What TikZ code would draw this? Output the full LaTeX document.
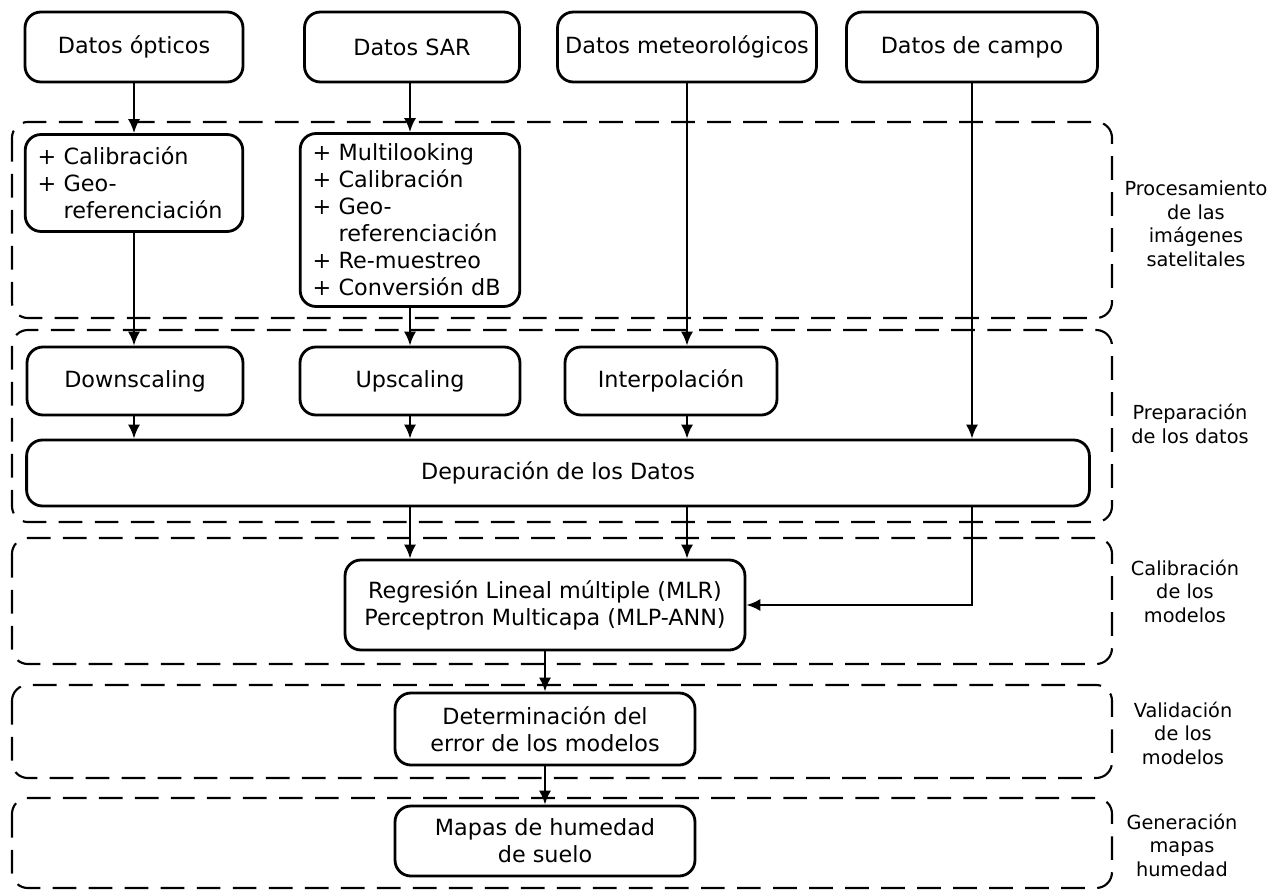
\documentclass[tikz,border=0pt]{standalone}
\usepackage{fontspec}
\setmainfont{DejaVu Sans}
\usepackage {tikz}
\usetikzlibrary {positioning}
\usetikzlibrary{calc}
\usetikzlibrary{arrows.meta}
\tikzset{
    proc/.style = {rectangle,draw,rounded corners=9pt,line width=1.6pt,align=center,
      font=\fontsize{12.7}{15.4}\selectfont,inner sep=2pt},
    steplist/.style = {proc,align=left,inner xsep=7pt},
    stage/.style = {draw,dash pattern=on 13.5pt off 7pt,line width=1.2pt,rounded corners=9pt},
    stagelabel/.style = {align=center,font=\fontsize{11}{13.4}\selectfont},
    flow/.style = {line width=1.4pt,-{Latex[length=8pt,width=7pt]}}}
\begin{document}
\begin{tikzpicture}[x=0.02cm,y=-0.02cm]
        \useasboundingbox (0,0) rectangle (1281,892);
        % etapas
        \draw[stage] (12,122) rectangle (1112,318);
        \draw[stage] (12,330) rectangle (1112,522);
        \draw[stage] (12,538) rectangle (1112,664);
        \draw[stage] (12,685) rectangle (1112,778);
        \draw[stage] (12,798) rectangle (1112,888);
        \node[stagelabel] (L1) at (1196,224) {Procesamiento\\de las\\imágenes\\satelitales};
        \node[stagelabel] (L2) at (1190,424) {Preparación\\de los datos};
        \node[stagelabel] (L3) at (1185,591) {Calibración\\de los\\modelos};
        \node[stagelabel] (L4) at (1183,733) {Validación\\de los\\modelos};
        \node[stagelabel] (L5) at (1182,845) {Generación\\mapas\\humedad};
        % datos
        \path (134,47) node[proc,minimum width=4.36cm,minimum height=1.4cm] (Opt) {Datos ópticos}
        (412,47) node[proc,minimum width=4.3cm,minimum height=1.4cm] (SAR) {Datos SAR}
        (687,47) node[proc,minimum width=5.18cm,minimum height=1.4cm] (Met) {Datos meteorológicos}
        (972,47) node[proc,minimum width=5.02cm,minimum height=1.4cm] (Campo) {Datos de campo};
        \path (134,183) node[steplist,text width=3.86cm,minimum height=1.94cm] (OptProc)
          {+ Calibración\\+ Geo-\\\phantom{+ }referenciación}
        (410,220) node[steplist,text width=3.9cm,minimum height=3.46cm] (SARProc)
          {+ Multilooking\\+ Calibración\\+ Geo-\\\phantom{+ }referenciación\\+ Re-muestreo\\+ Conversión dB};
        \path (135,381) node[proc,minimum width=4.32cm,minimum height=1.36cm] (Down) {Downscaling}
        (410,381) node[proc,minimum width=4.4cm,minimum height=1.36cm] (Up) {Upscaling}
        (671,381) node[proc,minimum width=4.24cm,minimum height=1.36cm] (Interp) {Interpolación}
        (558,473) node[proc,minimum width=21.26cm,minimum height=1.32cm] (Dep) {Depuración de los Datos}
        (545,605) node[proc,minimum width=8cm,minimum height=1.8cm] (Model)
          {Regresión Lineal múltiple (MLR)\\Perceptron Multicapa (MLP-ANN)}
        (545,729) node[proc,minimum width=6cm,minimum height=1.44cm] (Error)
          {Determinación del\\error de los modelos}
        (545,841) node[proc,minimum width=6cm,minimum height=1.4cm] (Mapas)
          {Mapas de humedad\\de suelo};
        % flechas
        \draw[flow] (Opt) -- (OptProc);
        \draw[flow] (SAR.south -| SARProc) -- (SARProc);
        \draw[flow] (OptProc.south -| Opt) -- (Down.north -| Opt);
        \draw[flow] (SARProc) -- (Up);
        \draw[flow] (Met) -- (Interp.north -| Met);
        \draw[flow] (Campo) -- (Dep.north -| Campo);
        \draw[flow] (Down.south -| Opt) -- (Dep.north -| Opt);
        \draw[flow] (Up) -- (Dep.north -| Up);
        \draw[flow] (Interp.south -| Met) -- (Dep.north -| Met);
        \draw[flow] (Dep.south -| Up) -- (Model.north -| Up);
        \draw[flow] (Dep.south -| Met) -- (Model.north -| Met);
        \draw[flow] (Dep.south -| Campo) |- (Model);
        \draw[flow] (Model) -- (Error);
        \draw[flow] (Error) -- (Mapas);
\end{tikzpicture}
\end{document}
